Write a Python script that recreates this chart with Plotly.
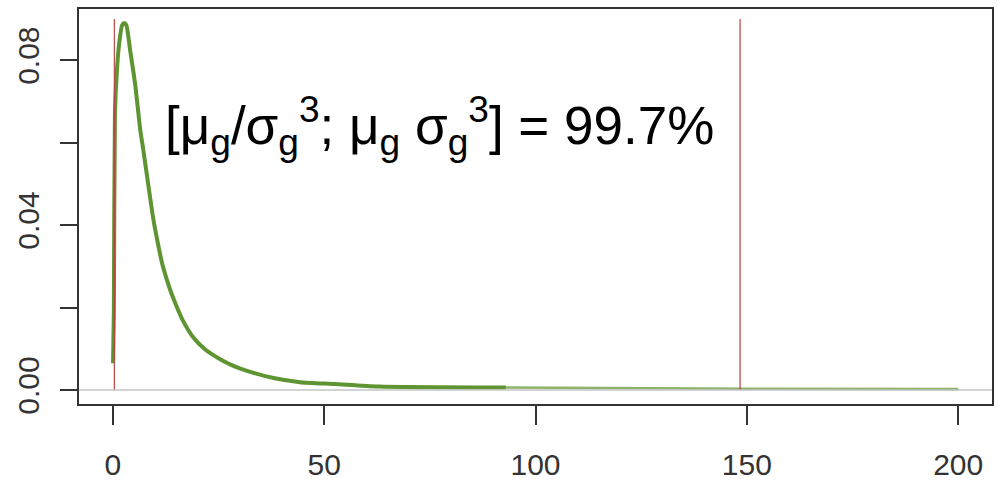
import plotly.graph_objects as go

# Density curve (x, density)
curve_x = [0.05, 0.25, 0.5, 1.0, 1.5, 2.2, 2.7, 3.2, 4.1, 5.3, 6.5, 7.1, 8.5, 9.5, 10.5,
           11.6, 12.8, 13.6, 15.0, 16.5, 19.0, 22.0, 24.7, 28.0, 32.5, 38.0, 44.3,
           52.6, 62.8, 93.0]
curve_y = [0.0065, 0.019, 0.067, 0.078, 0.084, 0.0885, 0.089, 0.0885, 0.0824, 0.074,
           0.063, 0.059, 0.049, 0.042, 0.0364, 0.031, 0.0267, 0.0242, 0.0205, 0.0170,
           0.0128, 0.0097, 0.0079, 0.0061, 0.0044, 0.0029, 0.0019, 0.00145, 0.00085,
           0.0006]
tail_x = [93.0, 120.0, 150.0, 200.0]
tail_y = [0.0006, 0.0004, 0.0003, 0.0002]

# Interval bounds mu_g/sigma_g^3 and mu_g*sigma_g^3, and their drawn height
bound_x = [0.37, 148.4]
bound_top = 0.090
baseline_y = 0.0

x_ticks = [0, 50, 100, 150, 200]
x_ticklabels = ["0", "50", "100", "150", "200"]
y_ticks = [0.0, 0.02, 0.04, 0.06, 0.08]
y_ticklabels = ["0.00", "", "0.04", "", "0.08"]

label = "[μ<sub>g</sub>/σ<sub>g</sub><sup>3</sup>; μ<sub>g</sub> σ<sub>g</sub><sup>3</sup>] = 99.7%"

fig = go.Figure()
fig.add_hline(y=baseline_y, line=dict(color="#c4c4c4", width=1.5))
fig.add_trace(go.Scatter(x=curve_x, y=curve_y, mode="lines", line_shape="spline",
                         line=dict(color="#5e9432", width=4, smoothing=0.6),
                         showlegend=False))
fig.add_trace(go.Scatter(x=tail_x, y=tail_y, mode="lines",
                         line=dict(color="#8db36a", width=2.6), showlegend=False))
seg_x, seg_y = [], []
for b in bound_x:
    seg_x += [b, b, None]
    seg_y += [baseline_y, bound_top, None]
fig.add_trace(go.Scatter(x=seg_x, y=seg_y, mode="lines",
                         line=dict(color="#b8403e", width=1.3), opacity=0.9,
                         showlegend=False))

fig.add_annotation(text=label, xref="paper", yref="paper", x=0.092, y=0.705,
                   xanchor="left", yanchor="middle", showarrow=False,
                   font=dict(family="Liberation Sans, Arial", size=53, color="#000"))

axis_common = dict(showline=True, mirror=True, linecolor="#333", linewidth=1.5,
                   ticks="outside", tickcolor="#333", tickwidth=1.5,
                   showgrid=False, zeroline=False, automargin=False,
                   tickfont=dict(family="Liberation Sans, Arial", size=30, color="#333"))
fig.update_xaxes(range=[-8, 208], tickvals=x_ticks, ticktext=x_ticklabels,
                 ticklen=19, ticklabelstandoff=14, **axis_common)
fig.update_yaxes(range=[-0.0034, 0.0924], tickvals=y_ticks, ticktext=y_ticklabels,
                 ticklen=17, tickangle=-90, ticklabelstandoff=9, **axis_common)

fig.update_layout(width=998, height=481, margin=dict(l=79, r=6, t=9, b=77),
                  plot_bgcolor="white", paper_bgcolor="white")
fig.write_html("out.html", config={"displayModeBar": False},
               post_script="document.body.style.margin='0';document.body.style.overflow='hidden';")
